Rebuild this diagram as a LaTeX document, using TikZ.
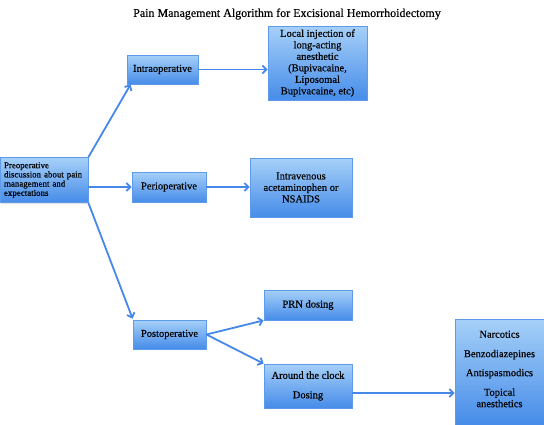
\documentclass[tikz,border=0pt]{standalone}
\usepackage{fontspec}
\setmainfont{Liberation Serif}[FakeBold=0.4]
\usetikzlibrary{arrows.meta,shadows,calc}
\definecolor{boxtop}{RGB}{166,208,248}
\definecolor{boxbot}{RGB}{70,140,233}
\definecolor{boxline}{RGB}{95,155,235}
\definecolor{arrowc}{RGB}{70,136,234}
\begin{document}
\begin{tikzpicture}[x=1pt,y=-1pt,
  box/.style={draw=boxline, line width=0.8pt, top color=boxtop, bottom color=boxbot,
    inner sep=2pt, align=center, font=\fontsize{10.5}{11.5}\selectfont,
    drop shadow={opacity=0.25,shadow xshift=1pt,shadow yshift=-1pt}},
  arr/.style={draw=arrowc, line width=1.8pt, -{Straight Barb[length=4pt,width=8pt]}}]
\useasboundingbox (0,0) rectangle (544,424);
\node[font=\fontsize{12}{14}\selectfont] (title) at (287,14) {Pain Management Algorithm for Excisional Hemorrhoidectomy};
\node[box, minimum width=88pt, minimum height=45pt, align=left, text width=80pt, inner xsep=4pt,
  font=\fontsize{8.9}{9.2}\selectfont] (pre) at (44,180) {\raisebox{-3pt}{\parbox{80pt}{Preoperative\\discussion about pain\\management and\\expectations}}};
\node[box, minimum width=71pt, minimum height=29pt] (intra) at (162.5,69.5) {Intraoperative};
\node[box, minimum width=99pt, minimum height=74pt] (local) at (317.5,63) {Local injection of\\long-acting\\anesthetic\\(Bupivacaine,\\Liposomal\\Bupivacaine, etc)};
\node[box, minimum width=74pt, minimum height=30pt] (peri) at (169,187) {Perioperative};
\node[box, minimum width=102pt, minimum height=59pt] (iv) at (301,187.5) {Intravenous\\acetaminophen or\\NSAIDS};
\node[box, minimum width=73pt, minimum height=29pt] (post) at (169.5,334.5) {Postoperative};
\node[box, minimum width=88pt, minimum height=30pt] (prn) at (308,305) {PRN dosing};
\node[box, minimum width=88pt, minimum height=44pt] (atc) at (308,386) {Around the clock\\[8pt]Dosing};
\node[box, minimum width=89pt, minimum height=106pt] (narc) at (499.5,372) {};
\node[align=center, font=\fontsize{10.5}{11.5}\selectfont, inner sep=0pt] (narctext) at ($(narc.center)+(0,-3)$) {Narcotics\\[8pt]Benzodiazepines\\[7.5pt]Antispasmodics\\[8pt]Topical\\anesthetics};
\draw[arr] (pre.north east) -- ($(intra.south west)+(4,0)$);
\draw[arr] (pre.east |- peri.west) -- (peri.west);
\draw[arr] (pre.south east) -- ($(post.north west)+(0,-1)$);
\draw[arr] (intra.east) -- (local.west |- intra.east);
\draw[arr] (peri.east) -- (iv.west |- peri.east);
\draw[arr] (post.east) -- (prn.south west);
\draw[arr] (post.east) -- (atc.north west);
\draw[arr] ($(atc.east)+(0,7)$) -- (narc.west |- {$(atc.east)+(0,7)$});
\end{tikzpicture}
\end{document}
